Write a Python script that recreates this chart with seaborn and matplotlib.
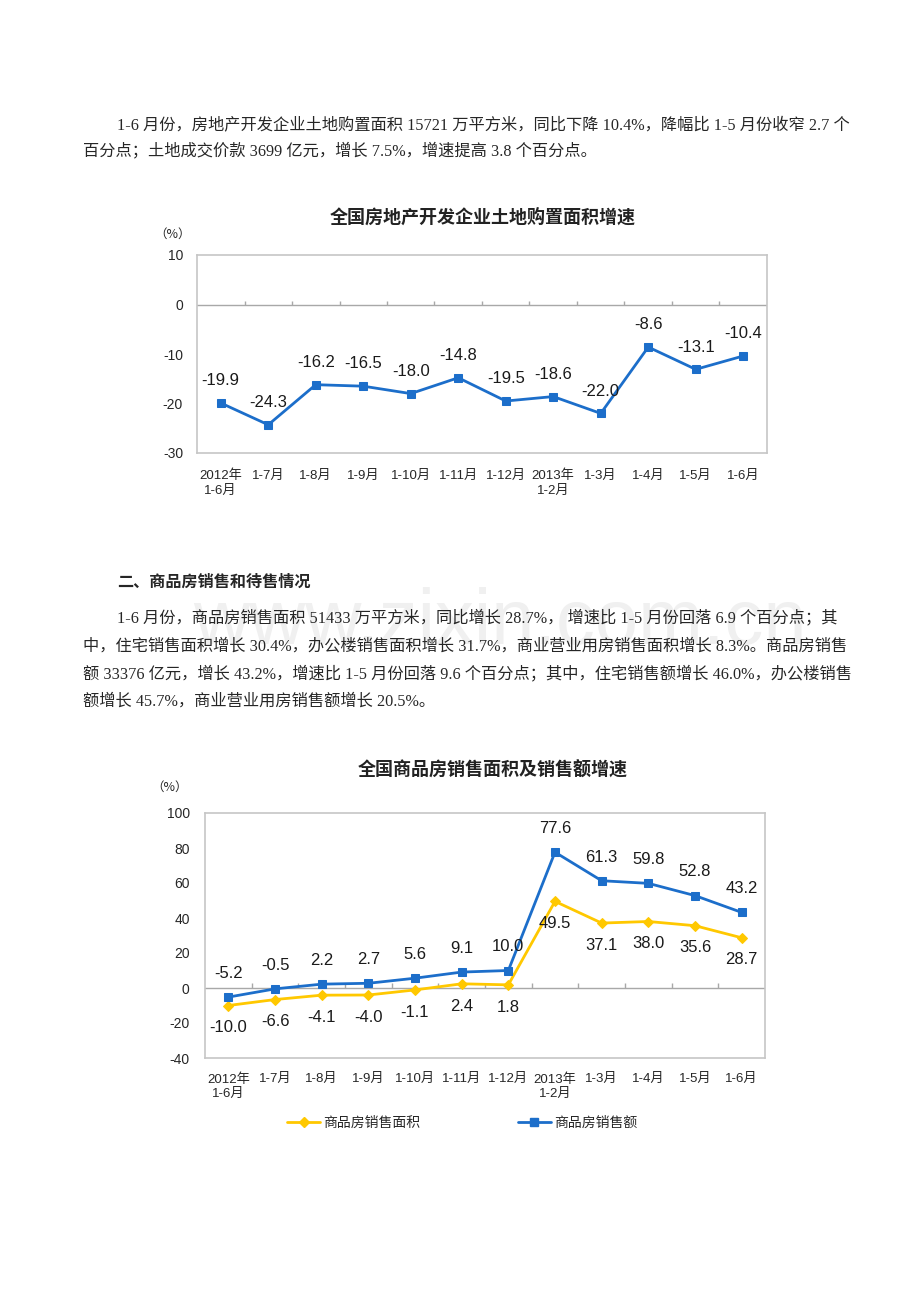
import numpy as np
import pandas as pd
import matplotlib
matplotlib.use('Agg')
import matplotlib.pyplot as plt
from matplotlib.lines import Line2D
import seaborn as sns

# Data
months = ['2012年\n1-6月', '1-7月', '1-8月', '1-9月', '1-10月', '1-11月', '1-12月',
          '2013年\n1-2月', '1-3月', '1-4月', '1-5月', '1-6月']
land_area = [-19.9, -24.3, -16.2, -16.5, -18.0, -14.8, -19.5, -18.6, -22.0, -8.6, -13.1, -10.4]
sales_area = [-10.0, -6.6, -4.1, -4.0, -1.1, 2.4, 1.8, 49.5, 37.1, 38.0, 35.6, 28.7]
sales_amount = [-5.2, -0.5, 2.2, 2.7, 5.6, 9.1, 10.0, 77.6, 61.3, 59.8, 52.8, 43.2]
series_names = ['商品房销售面积', '商品房销售额']

title1 = '全国房地产开发企业土地购置面积增速'
title2 = '全国商品房销售面积及销售额增速'
para1 = ['1-6 月份，房地产开发企业土地购置面积 15721 万平方米，同比下降 10.4%，降幅比 1-5 月份收窄 2.7 个',
         '百分点；土地成交价款 3699 亿元，增长 7.5%，增速提高 3.8 个百分点。']
heading = '二、商品房销售和待售情况'
para2 = ['1-6 月份，商品房销售面积 51433 万平方米，同比增长 28.7%， 增速比 1-5 月份回落 6.9 个百分点；其',
         '中，住宅销售面积增长 30.4%，办公楼销售面积增长 31.7%，商业营业用房销售面积增长 8.3%。商品房销售',
         '额 33376 亿元，增长 43.2%，增速比 1-5 月份回落 9.6 个百分点；其中，住宅销售额增长 46.0%，办公楼销售',
         '额增长 45.7%，商业营业用房销售额增长 20.5%。']

BLUE = '#1C6ECA'
YELLOW = '#FFC800'
FRAME = '#c6c6c6'

sns.set_style('white')
plt.rcParams['font.family'] = ['Liberation Sans', 'Noto Sans CJK SC', 'DejaVu Sans']
plt.rcParams['axes.unicode_minus'] = False
SERIF = ['Liberation Serif', 'Noto Sans CJK SC']
SANS = ['Liberation Sans', 'Noto Sans CJK SC']

W, H = 920, 1302
fig = plt.figure(figsize=(W / 100, H / 100), dpi=100)
fig.patch.set_facecolor('white')


def fx(px):
    return px / W


def fy(py):
    return 1 - py / H


# faint watermark behind the second paragraph
fig.text(fx(500), fy(624), 'www.zixin.com.cn', fontsize=56, color='#f0f0f0',
         ha='center', va='center', family='Liberation Sans')

# paragraphs
TXT = 11.7
fig.text(fx(117), fy(125), para1[0], fontsize=TXT, family=SERIF, va='center')
fig.text(fx(83), fy(151), para1[1], fontsize=TXT, family=SERIF, va='center')
fig.text(fx(117), fy(582), heading, fontsize=11.6, family=['Noto Sans CJK SC'],
         fontweight='bold', va='center')
for i, line in enumerate(para2):
    fig.text(fx(117 if i == 0 else 83), fy(618 + i * 28), line, fontsize=TXT,
             family=SERIF, va='center')


def style_axes(ax, ymin, ymax, step, ypad, xpad):
    n = len(months)
    ax.set_xlim(-0.5, n - 0.5)
    ax.set_ylim(ymin, ymax)
    ax.set_yticks(np.arange(ymin, ymax + 1, step))
    ax.set_xticks(np.arange(n))
    ax.set_xticklabels(months, fontsize=9.5, linespacing=1.25)
    ax.tick_params(axis='y', direction='in', length=4, color=FRAME, labelsize=10, pad=ypad)
    ax.tick_params(axis='x', length=0, pad=xpad)
    for s in ax.spines.values():
        s.set_color(FRAME)
        s.set_linewidth(1.2)
    ax.axhline(0, color='#a8a8a8', lw=1, zorder=1)
    tick_h = (ymax - ymin) * 0.02
    ax.vlines(np.arange(n - 1) + 0.5, 0, tick_h, color='#a8a8a8', lw=1, zorder=1)
    ax.set_xlabel('')
    ax.set_ylabel('')


# Chart 1
ax1 = fig.add_axes([fx(197), fy(453), fx(767) - fx(197), fy(255) - fy(453)])
df1 = pd.DataFrame({'pos': np.arange(len(months)), 'value': land_area})
sns.lineplot(data=df1, x='pos', y='value', ax=ax1, color=BLUE, lw=2, marker='s',
             markersize=6, markeredgecolor=BLUE, zorder=3)
style_axes(ax1, -30, 10, 10, 10, 12)
for i, v in enumerate(land_area):
    ax1.annotate(f'{v:.1f}', (i, v), xytext=(0, 16), textcoords='offset points',
                 ha='center', va='center', fontsize=12, color='#1a1a1a')
fig.text(fx(483), fy(217), title1, fontsize=13, fontweight='bold',
         family=['Noto Sans CJK SC'], ha='center', va='center', color='#222222')
fig.text(fx(173), fy(234), '（%）', fontsize=9, family=['Noto Sans CJK SC'],
         ha='center', va='center')

# Chart 2
ax2 = fig.add_axes([fx(205), fy(1058), fx(765) - fx(205), fy(813) - fy(1058)])
df2 = pd.DataFrame({'pos': np.tile(np.arange(len(months)), 2),
                    'value': sales_area + sales_amount,
                    'series': np.repeat(series_names, len(months))})
sns.lineplot(data=df2[df2.series == series_names[0]], x='pos', y='value', ax=ax2,
             color=YELLOW, lw=2, marker='D', markersize=5.5, markeredgecolor=YELLOW, zorder=3)
sns.lineplot(data=df2[df2.series == series_names[1]], x='pos', y='value', ax=ax2,
             color=BLUE, lw=2, marker='s', markersize=5.5, markeredgecolor=BLUE, zorder=3)
style_axes(ax2, -40, 100, 20, 11, 11)
for i, v in enumerate(sales_amount):
    ax2.annotate(f'{v:.1f}', (i, v), xytext=(0, 17), textcoords='offset points',
                 ha='center', va='center', fontsize=12, color='#1a1a1a')
for i, v in enumerate(sales_area):
    ax2.annotate(f'{v:.1f}', (i, v), xytext=(0, -16), textcoords='offset points',
                 ha='center', va='center', fontsize=12, color='#1a1a1a')
fig.text(fx(493), fy(770), title2, fontsize=13, fontweight='bold',
         family=['Noto Sans CJK SC'], ha='center', va='center', color='#222222')
fig.text(fx(170), fy(787), '（%）', fontsize=9, family=['Noto Sans CJK SC'],
         ha='center', va='center')

handles = [Line2D([], [], color=YELLOW, lw=2, marker='D', markersize=5.5),
           Line2D([], [], color=BLUE, lw=2, marker='s', markersize=5.5)]
fig.legend(handles, series_names, loc='center', bbox_to_anchor=(fx(462), fy(1123)),
           ncol=2, frameon=False, handlelength=2.4, handletextpad=0.2,
           columnspacing=7.0, prop={'family': SANS, 'size': 10})

fig.savefig('out.png', dpi=100)
